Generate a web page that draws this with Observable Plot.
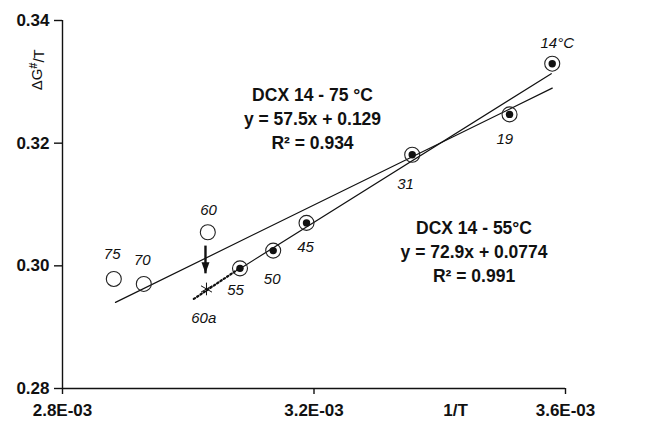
<!DOCTYPE html>
<html>
<head>
<meta charset="utf-8">
<script src="https://cdn.jsdelivr.net/npm/d3@7"></script>
<script src="https://cdn.jsdelivr.net/npm/@observablehq/plot@0.6"></script>
<style>
  html, body { margin: 0; padding: 0; background: #fff; }
  svg { font-family: "Liberation Sans", Arial, sans-serif; }
</style>
</head>
<body>
<div id="chart"></div>
<script>
// ---- data ----
const pointLabels = ["75", "70", "60", "60a", "55", "50", "45", "31", "19", "14°C"];
const pointX = [2.8816e-3, 2.9293e-3, 3.0311e-3, 3.0290e-3, 3.0823e-3, 3.1351e-3, 3.1881e-3, 3.3562e-3, 3.5110e-3, 3.5789e-3];
const pointY = [0.29786, 0.29705, 0.30547, 0.29623, 0.29959, 0.30248, 0.30700, 0.31811, 0.32469, 0.33296];
const pointKind = ["open", "open", "open", "star", "dot", "dot", "dot", "dot", "dot", "dot"];
const labelX = [2.8790e-3, 2.9268e-3, 3.0322e-3, 3.0247e-3, 3.0752e-3, 3.1335e-3, 3.1865e-3, 3.3455e-3, 3.5035e-3, 3.5868e-3];
const labelY = [0.30183, 0.30085, 0.30901, 0.29149, 0.29595, 0.29786, 0.30302, 0.31326, 0.32072, 0.33623];

const fit1X = [2.8843e-3, 3.5789e-3];   // DCX 14 - 75 °C
const fit1Y = [0.29404, 0.32898];
const fit2X = [3.0823e-3, 3.5773e-3];   // DCX 14 - 55 °C
const fit2Y = [0.29954, 0.33133];
const dottedX = [3.0088e-3, 3.0778e-3];
const dottedY = [0.29460, 0.29933];
const arrowX = [3.0274e-3];
const arrowY1 = [0.3033];
const arrowY2 = [0.29878];

const notes = ["DCX 14 - 75 °C\ny = 57.5x + 0.129\nR² = 0.934", "DCX 14 - 55°C\ny = 72.9x + 0.0774\nR² = 0.991"];
const noteX = [3.1976e-3, 3.4545e-3];
const noteY = [0.32420, 0.30256];

const xTicks = [2.8e-3, 3.2e-3, 3.6e-3];
const yTicks = [0.28, 0.30, 0.32, 0.34];
const xTitle = "1/T";
const xTitleX = 3.4251e-3;
const yTitle = "ΔG#/T";
const yTitleY = 0.32861;

// ---- tables ----
const points = pointX.map((x, i) => ({x, y: pointY[i], kind: pointKind[i], label: pointLabels[i], lx: labelX[i], ly: labelY[i]}));
const pts = (xs, ys) => xs.map((x, i) => ({x, y: ys[i]}));
const arrows = arrowX.map((x, i) => ({x, y1: arrowY1[i], y2: arrowY2[i]}));
const noteData = notes.map((t, i) => ({t, x: noteX[i], y: noteY[i]}));

const fmtSci = d => {
  const [m, e] = d.toExponential(1).split("e");
  const n = Math.abs(+e);
  return m.toUpperCase() + "E" + (+e < 0 ? "-" : "+") + String(n).padStart(2, "0");
};

const arrowHead = {
  draw(ctx) {
    ctx.moveTo(0, 0);
    ctx.lineTo(-4, -11);
    ctx.lineTo(4, -11);
    ctx.closePath();
  }
};

const ink = "#111";

const chart = Plot.plot({
  width: 656,
  height: 424,
  marginLeft: 62,
  marginRight: 91,
  marginTop: 20,
  marginBottom: 36,
  style: {background: "#fff", fontFamily: "Liberation Sans, Arial, sans-serif", overflow: "visible"},
  x: {domain: [2.8e-3, 3.6e-3]},
  y: {domain: [0.28, 0.34]},
  marks: [
    Plot.axisX({ticks: xTicks, tickFormat: fmtSci, tickSize: 6, tickPadding: 9, fontSize: 17, fontWeight: "bold", stroke: ink, strokeWidth: 1.4, fill: ink, label: null}),
    Plot.axisY({ticks: yTicks, tickFormat: d => d.toFixed(2), tickSize: 8, tickPadding: 5, fontSize: 17, fontWeight: "bold", stroke: ink, strokeWidth: 1.4, fill: ink, label: null}),
    Plot.ruleY([0.28], {stroke: ink, strokeWidth: 1.4}),
    Plot.ruleX([2.8e-3], {stroke: ink, strokeWidth: 1.4}),
    Plot.text([xTitle], {x: () => xTitleX, frameAnchor: "bottom", lineAnchor: "top", dy: 15, text: d => d, fontSize: 17, fontWeight: "bold", fill: ink}),
    Plot.text([yTitle], {y: () => yTitleY, frameAnchor: "left", dx: -25, rotate: -90, text: d => d, fontSize: 15, fill: ink, className: "ytitle"}),
    Plot.line(pts(fit1X, fit1Y), {x: "x", y: "y", stroke: ink, strokeWidth: 1.2}),
    Plot.line(pts(fit2X, fit2Y), {x: "x", y: "y", stroke: ink, strokeWidth: 1.2}),
    Plot.line(pts(dottedX, dottedY), {x: "x", y: "y", stroke: ink, strokeWidth: 2.2, strokeDasharray: "1.6 2.4"}),
    Plot.link(arrows, {x1: "x", x2: "x", y1: "y1", y2: "y2", stroke: ink, strokeWidth: 2.4}),
    Plot.dot(arrows, {x: "x", y: "y2", symbol: arrowHead, fill: ink, stroke: "none"}),
    Plot.dot(points.filter(d => d.kind !== "star"), {x: "x", y: "y", r: 7.5, stroke: "#222", strokeWidth: 1.1, fill: "none"}),
    Plot.dot(points.filter(d => d.kind === "dot"), {x: "x", y: "y", r: 3.7, fill: ink, stroke: "none"}),
    Plot.dot(points.filter(d => d.kind === "star"), {x: "x", y: "y", symbol: "asterisk", r: 6, stroke: ink, strokeWidth: 1}),
    Plot.text(points, {x: "lx", y: "ly", text: "label", fontSize: 15, fontStyle: "italic", fill: ink}),
    Plot.text(noteData, {x: "x", y: "y", text: "t", fontSize: 17.5, fontWeight: "bold", lineHeight: 1.36, lineAnchor: "middle", fill: ink})
  ]
});

// superscript "#" in the y title
chart.querySelectorAll("g.ytitle text, g[aria-label='text'] text").forEach(t => {
  if (t.textContent === yTitle) {
    t.textContent = "";
    const ns = "http://www.w3.org/2000/svg";
    const a = document.createElementNS(ns, "tspan"); a.textContent = "ΔG";
    const b = document.createElementNS(ns, "tspan"); b.textContent = "#"; b.setAttribute("dy", "-0.45em"); b.setAttribute("font-size", "11"); b.setAttribute("font-weight", "bold");
    const c = document.createElementNS(ns, "tspan"); c.textContent = "/T"; c.setAttribute("dy", "0.45em");
    t.append(a, b, c);
  }
});

document.getElementById("chart").appendChild(chart);
</script>
</body>
</html>
